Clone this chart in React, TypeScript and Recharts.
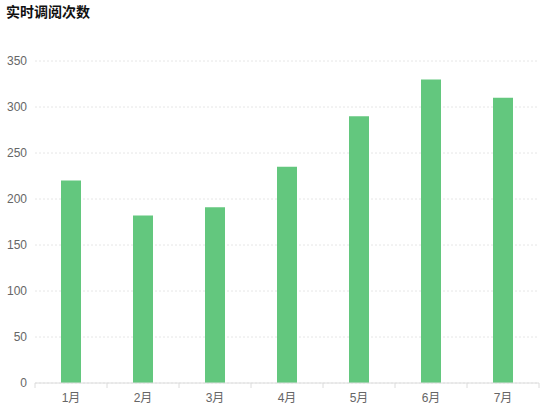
import React from 'react';
import { BarChart, Bar, XAxis, YAxis, CartesianGrid } from 'recharts';

const months = ['1月', '2月', '3月', '4月', '5月', '6月', '7月'];
const counts = [220, 182, 191, 235, 290, 330, 310];
const yTicks = [0, 50, 100, 150, 200, 250, 300, 350];

const data = months.map((m, i) => ({ month: m, value: counts[i] }));

const FONT = '"Liberation Sans", "Noto Sans CJK SC", sans-serif';
const TITLE_FONT = '"Noto Sans CJK SC", sans-serif';

const XTick = (props: any) => {
  const { x, y, payload, index } = props;
  const half = payload && payload.offset ? payload.offset : 0;
  const axisY = y - 8;
  const isLast = index === months.length - 1;
  return (
    <g>
      <line x1={x - half} x2={x - half} y1={axisY} y2={axisY + 5} stroke="#dcdcdc" />
      {isLast ? (
        <line x1={x + half} x2={x + half} y1={axisY} y2={axisY + 5} stroke="#dcdcdc" />
      ) : null}
      <text x={x} y={y + 11} textAnchor="middle" fill="#666" fontSize={12} fontFamily={FONT}>
        {payload.value}
      </text>
    </g>
  );
};

export default function App() {
  return (
    <div style={{ position: 'absolute', left: 0, top: 0, width: 550, height: 420, background: '#fff' }}>
      <div
        style={{
          position: 'absolute',
          left: 6,
          top: 4,
          fontSize: 14,
          lineHeight: '14px',
          fontWeight: 'bold',
          fontFamily: TITLE_FONT,
          color: '#111',
        }}
      >
        实时调阅次数
      </div>
      <BarChart
        width={550}
        height={420}
        data={data}
        margin={{ top: 61, right: 11, bottom: 7, left: 0 }}
      >
        <CartesianGrid vertical={false} stroke="#e6e6e6" strokeDasharray="2 2" />
        <XAxis
          dataKey="month"
          axisLine={{ stroke: '#dcdcdc' }}
          tickLine={false}
          tick={<XTick />}
          height={30}
          interval={0}
        />
        <YAxis
          domain={[0, 350]}
          ticks={yTicks}
          width={35}
          axisLine={false}
          tickLine={false}
          tick={{ fill: '#666', fontSize: 12, fontFamily: FONT }}
        />
        <Bar dataKey="value" fill="#63c77e" barSize={20} isAnimationActive={false} />
      </BarChart>
    </div>
  );
}
